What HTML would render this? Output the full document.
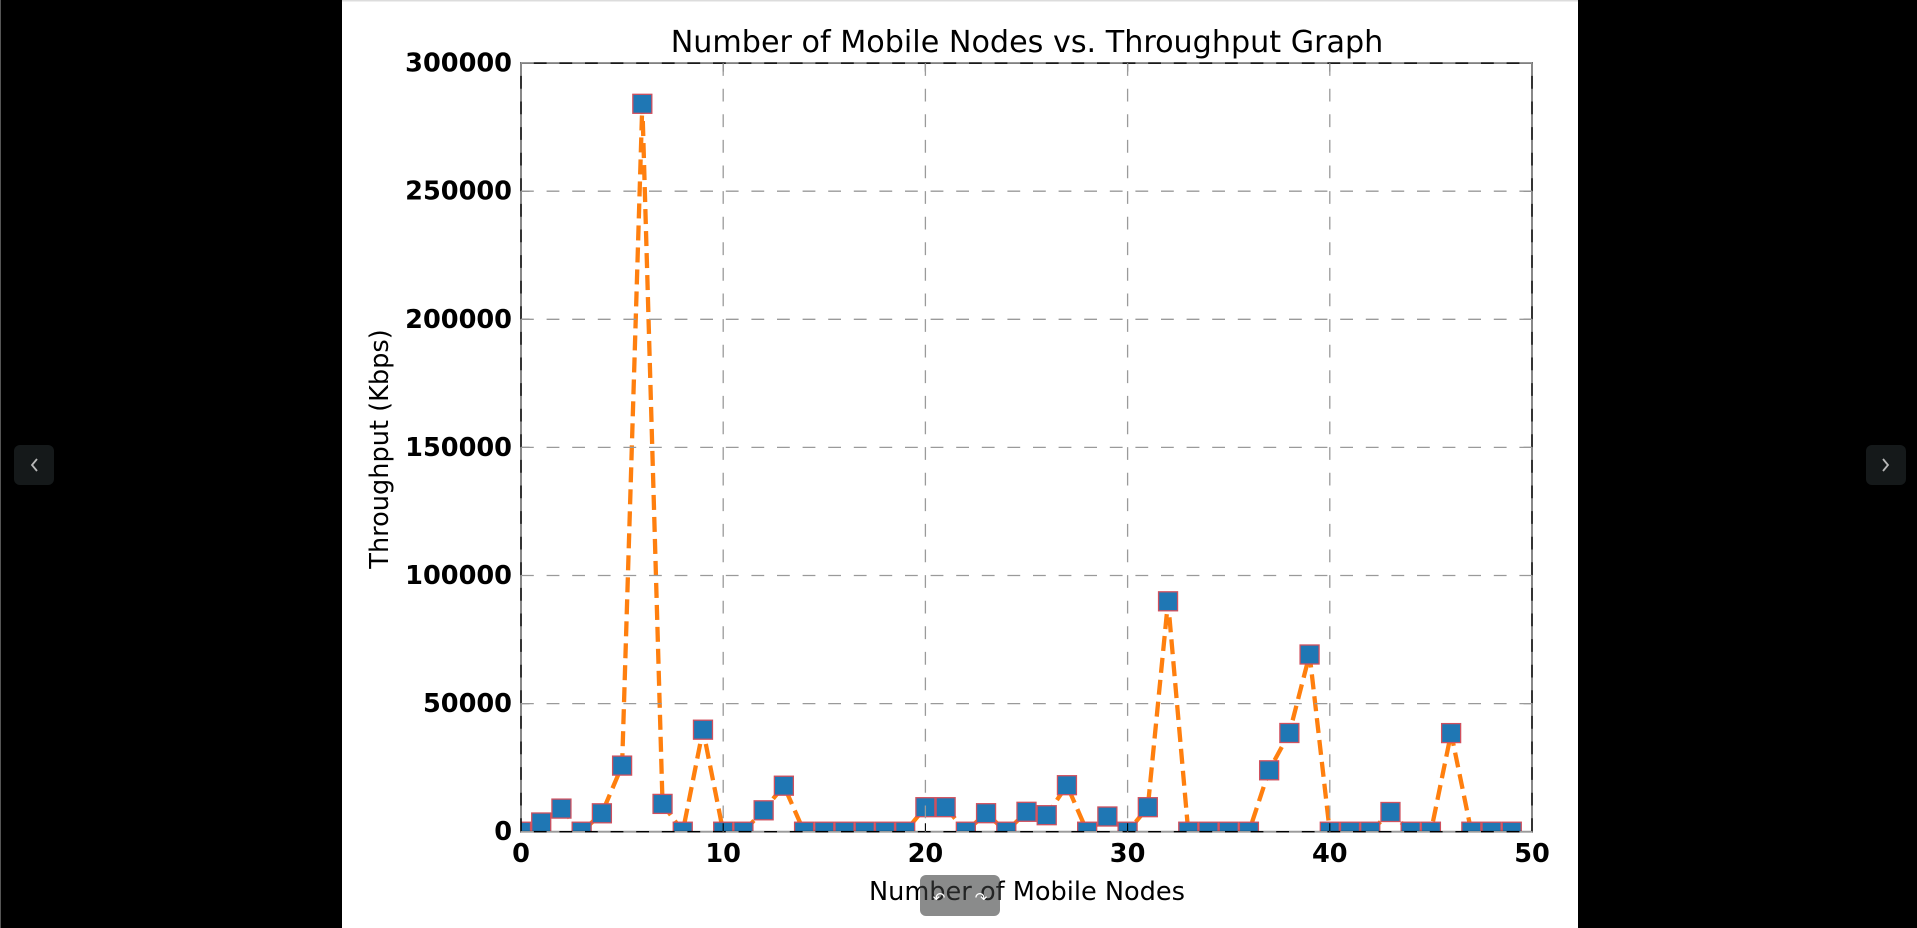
<!DOCTYPE html>
<html>
<head>
<meta charset="utf-8">
<style>
html,body{margin:0;padding:0;background:#000;width:1917px;height:928px;overflow:hidden;}
svg{display:block;}
text{font-family:"DejaVu Sans","Liberation Sans",sans-serif;}
</style>
</head>
<body>
<svg width="1917" height="928" viewBox="0 0 1917 928" xmlns="http://www.w3.org/2000/svg">
<defs>
<clipPath id="ax"><rect x="521" y="63.1" width="1011" height="768.6"/></clipPath>
</defs>
<rect x="0" y="0" width="1917" height="928" fill="#000"/>
<rect x="342" y="0" width="1236" height="928" fill="#fff"/>
<rect x="342" y="0" width="1236" height="1.5" fill="#dcdcdc"/>
<rect x="0" y="0" width="1" height="928" fill="#555"/>

<text x="1027" y="52" font-size="30.2" text-anchor="middle" fill="#000">Number of Mobile Nodes vs. Throughput Graph</text>

<g clip-path="url(#ax)">
<polyline fill="none" stroke="#ff7f0e" stroke-width="4.3" stroke-dasharray="15 7" stroke-linejoin="round" points="521,831.7 541.22,822.5 561.44,808.6 581.66,831.7 601.88,813.3 622.1,765.6 642.32,103.8 662.54,803.9 682.76,831.7 702.98,729.7 723.2,831.7 743.42,831.7 763.64,810.3 783.86,785.7 804.08,831.7 824.3,831.7 844.52,831.7 864.74,831.7 884.96,831.7 905.18,831.7 925.4,807.2 945.62,807.2 965.84,831.7 986.06,813.2 1006.28,831.7 1026.5,811.8 1046.72,815.2 1066.94,785.2 1087.16,831.7 1107.38,816.5 1127.6,831.7 1147.82,807.2 1168.04,601.3 1188.26,831.7 1208.48,831.7 1228.7,831.7 1248.92,831.7 1269.14,770.3 1289.36,733.0 1309.58,654.5 1329.8,831.7 1350.02,831.7 1370.24,831.7 1390.46,812.0 1410.68,831.7 1430.9,831.7 1451.12,733.1 1471.34,831.7 1491.56,831.7 1511.78,831.7"/>
<g fill="#1f77b4" stroke="#d0505e" stroke-width="1.3">
<rect x="511.5" y="822.2" width="19" height="19"/>
<rect x="531.72" y="813" width="19" height="19"/>
<rect x="551.94" y="799.1" width="19" height="19"/>
<rect x="572.16" y="822.2" width="19" height="19"/>
<rect x="592.38" y="803.8" width="19" height="19"/>
<rect x="612.6" y="756.1" width="19" height="19"/>
<rect x="632.82" y="94.3" width="19" height="19"/>
<rect x="653.04" y="794.4" width="19" height="19"/>
<rect x="673.26" y="822.2" width="19" height="19"/>
<rect x="693.48" y="720.2" width="19" height="19"/>
<rect x="713.7" y="822.2" width="19" height="19"/>
<rect x="733.92" y="822.2" width="19" height="19"/>
<rect x="754.14" y="800.8" width="19" height="19"/>
<rect x="774.36" y="776.2" width="19" height="19"/>
<rect x="794.58" y="822.2" width="19" height="19"/>
<rect x="814.8" y="822.2" width="19" height="19"/>
<rect x="835.02" y="822.2" width="19" height="19"/>
<rect x="855.24" y="822.2" width="19" height="19"/>
<rect x="875.46" y="822.2" width="19" height="19"/>
<rect x="895.68" y="822.2" width="19" height="19"/>
<rect x="915.9" y="797.7" width="19" height="19"/>
<rect x="936.12" y="797.7" width="19" height="19"/>
<rect x="956.34" y="822.2" width="19" height="19"/>
<rect x="976.56" y="803.7" width="19" height="19"/>
<rect x="996.78" y="822.2" width="19" height="19"/>
<rect x="1017" y="802.3" width="19" height="19"/>
<rect x="1037.22" y="805.7" width="19" height="19"/>
<rect x="1057.44" y="775.7" width="19" height="19"/>
<rect x="1077.66" y="822.2" width="19" height="19"/>
<rect x="1097.88" y="807" width="19" height="19"/>
<rect x="1118.1" y="822.2" width="19" height="19"/>
<rect x="1138.32" y="797.7" width="19" height="19"/>
<rect x="1158.54" y="591.8" width="19" height="19"/>
<rect x="1178.76" y="822.2" width="19" height="19"/>
<rect x="1198.98" y="822.2" width="19" height="19"/>
<rect x="1219.2" y="822.2" width="19" height="19"/>
<rect x="1239.42" y="822.2" width="19" height="19"/>
<rect x="1259.64" y="760.8" width="19" height="19"/>
<rect x="1279.86" y="723.5" width="19" height="19"/>
<rect x="1300.08" y="645" width="19" height="19"/>
<rect x="1320.3" y="822.2" width="19" height="19"/>
<rect x="1340.52" y="822.2" width="19" height="19"/>
<rect x="1360.74" y="822.2" width="19" height="19"/>
<rect x="1380.96" y="802.5" width="19" height="19"/>
<rect x="1401.18" y="822.2" width="19" height="19"/>
<rect x="1421.4" y="822.2" width="19" height="19"/>
<rect x="1441.62" y="723.6" width="19" height="19"/>
<rect x="1461.84" y="822.2" width="19" height="19"/>
<rect x="1482.06" y="822.2" width="19" height="19"/>
<rect x="1502.28" y="822.2" width="19" height="19"/>
</g>
</g>

<rect x="521" y="63.1" width="1011" height="768.6" fill="none" stroke="#000" stroke-width="1.6"/>

<g stroke="#000" stroke-width="1.1">
<path d="M521 703.6h8.5M521 575.5h8.5M521 447.4h8.5M521 319.3h8.5M521 191.2h8.5"/>
<path d="M1532 703.6h-8.5M1532 575.5h-8.5M1532 447.4h-8.5M1532 319.3h-8.5M1532 191.2h-8.5"/>
<path d="M723.2 831.7v-8.5M925.4 831.7v-8.5M1127.6 831.7v-8.5M1329.8 831.7v-8.5"/>
<path d="M723.2 63.1v8.5M925.4 63.1v8.5M1127.6 63.1v8.5M1329.8 63.1v8.5"/>
</g>

<g stroke="#9a9a9a" stroke-width="1.3" stroke-dasharray="12.8 12.8" fill="none">
<path d="M521 63.1H1532M521 191.2H1532M521 319.3H1532M521 447.4H1532M521 575.5H1532M521 703.6H1532M521 831.7H1532"/>
<path d="M521 63.1V831.7M723.2 63.1V831.7M925.4 63.1V831.7M1127.6 63.1V831.7M1329.8 63.1V831.7M1532 63.1V831.7"/>
</g>

<g font-size="25.6" font-weight="bold" text-anchor="end" fill="#000">
<text x="512" y="71.6">300000</text>
<text x="512" y="199.7">250000</text>
<text x="512" y="327.8">200000</text>
<text x="512" y="455.9">150000</text>
<text x="512" y="584">100000</text>
<text x="512" y="712.1">50000</text>
<text x="512" y="840.2">0</text>
</g>
<g font-size="25.6" font-weight="bold" text-anchor="middle" fill="#000">
<text x="521" y="862">0</text>
<text x="723.2" y="862">10</text>
<text x="925.4" y="862">20</text>
<text x="1127.6" y="862">30</text>
<text x="1329.8" y="862">40</text>
<text x="1532" y="862">50</text>
</g>

<text x="1027" y="900" font-size="25.6" text-anchor="middle" fill="#000">Number of Mobile Nodes</text>
<text transform="translate(388,449) rotate(-90)" font-size="25.6" text-anchor="middle" fill="#000">Throughput (Kbps)</text>

<rect x="920" y="875" width="80" height="41" rx="6" fill="rgba(60,62,62,0.6)"/>
<text x="939" y="903" font-size="15" text-anchor="middle" fill="#fff">↶</text>
<text x="981" y="903" font-size="15" text-anchor="middle" fill="#fff">↷</text>

<rect x="14" y="445" width="40" height="40" rx="6" fill="#15191a"/>
<polyline points="37,459 32,465 37,471" fill="none" stroke="#b8b8b8" stroke-width="1.8"/>
<rect x="1866" y="445" width="40" height="40" rx="6" fill="#15191a"/>
<polyline points="1883,459 1888,465 1883,471" fill="none" stroke="#b8b8b8" stroke-width="1.8"/>
</svg>
</body>
</html>
